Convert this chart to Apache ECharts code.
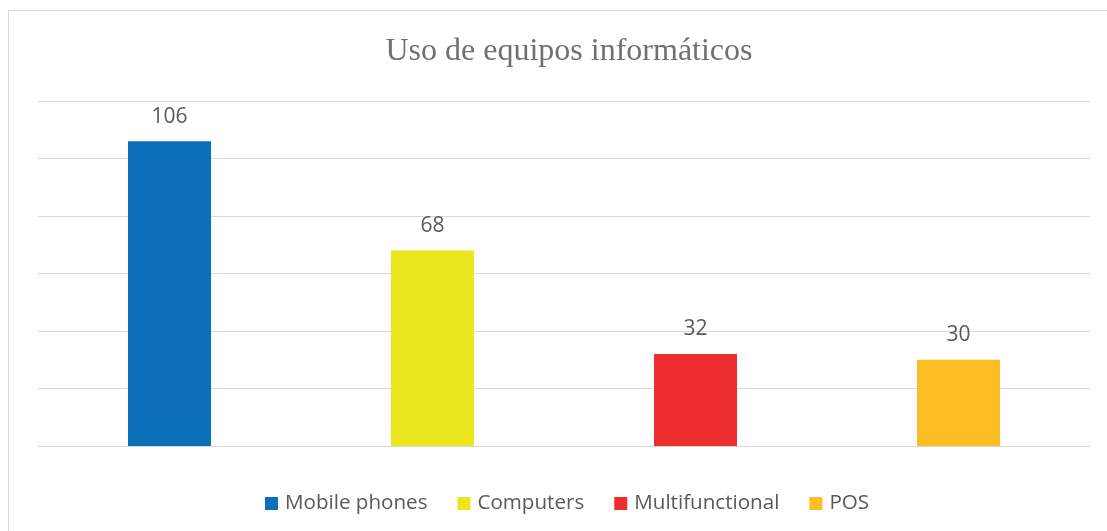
<!DOCTYPE html>
<html>
<head>
<meta charset="utf-8">
<script src="https://cdn.jsdelivr.net/npm/echarts@6/dist/echarts.min.js"></script>
<style>
  html, body { margin: 0; padding: 0; background: #fff; overflow: hidden; }
  #frame { position: absolute; left: 8px; top: 10px; width: 1200px; height: 600px; border: 1px solid #d9d9d9; box-sizing: border-box; }
  #main { position: absolute; left: 0; top: 0; width: 1107px; height: 531px; }
</style>
</head>
<body>
<div id="frame"></div>
<div id="main"></div>
<script>
var categories = ['Mobile phones', 'Computers', 'Multifunctional', 'POS'];
var values = [106, 68, 32, 30];
var colors = ['#0b70b9', '#ebe71d', '#ee2e2e', '#fdbe24'];
var yTicks = [0, 20, 40, 60, 80, 100, 120];

var myChart = echarts.init(document.getElementById('main'));

var series = [];
for (var i = 0; i < categories.length; i++) {
    var d = [];
    for (var j = 0; j < categories.length; j++) {
        d.push(i === j ? values[j] : '-');
    }
    series.push({
        name: categories[i],
        type: 'bar',
        data: d,
        barWidth: 83,
        barGap: '-100%',
        itemStyle: { color: colors[i] },
        label: {
            show: true,
            position: 'top',
            distance: 14,
            color: '#595959',
            fontSize: 21,
            fontFamily: 'Open Sans'
        }
    });
}

var option = {
    animation: false,
    title: {
        text: 'Uso de equipos informáticos',
        left: 564,
        textAlign: 'center',
        top: 31,
        textStyle: {
            fontFamily: 'Liberation Serif',
            fontWeight: 'normal',
            fontSize: 32,
            color: '#707070'
        }
    },
    legend: {
        data: categories,
        top: 488,
        left: 260,
        icon: 'rect',
        itemWidth: 13,
        itemHeight: 13,
        itemGap: 30,
        textStyle: { color: '#595959', fontSize: 20.6, fontFamily: 'Open Sans', padding: [0, 0, 0, 2] }
    },
    grid: { left: 38, right: 17, top: 101, bottom: 85 },
    xAxis: {
        type: 'category',
        data: categories,
        axisLabel: { show: false },
        axisTick: { show: false },
        axisLine: { lineStyle: { color: '#d9d9d9', width: 1 } }
    },
    yAxis: {
        type: 'value',
        min: yTicks[0],
        max: yTicks[yTicks.length - 1],
        interval: 20,
        axisLabel: { show: false },
        axisLine: { show: false },
        axisTick: { show: false },
        splitLine: { lineStyle: { color: '#d9d9d9', width: 1 } }
    },
    series: series
};

myChart.setOption(option);
window.addEventListener('resize', function () { myChart.resize(); });
</script>
</body>
</html>
